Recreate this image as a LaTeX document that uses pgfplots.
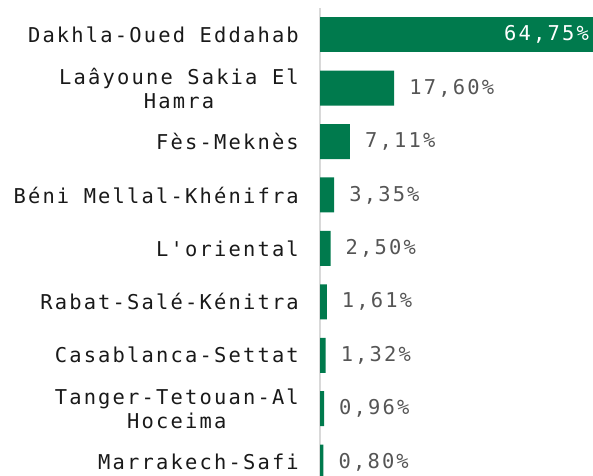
\documentclass[border=0pt]{standalone}
\usepackage{fontspec}
\setmainfont{Liberation Sans}
\newfontfamily\monof[LetterSpace=10.7,Ligatures=TeXOff]{DejaVu Sans Mono}
\usepackage{pgfplots}
\pgfplotsset{compat=1.18}
\definecolor{bargreen}{RGB}{0,122,77}
\definecolor{valgray}{RGB}{85,85,85}
\begin{document}
\begin{tikzpicture}
\begin{axis}[
  at={(320bp,-8bp)}, anchor=north west,
  scale only axis, width=273bp, height=468bp,
  xbar, bar width=35bp, bar shift=0pt,
  xmin=0, xmax=64.75, ymin=-0.5, ymax=8.26,
  y dir=reverse,
  axis x line=none, axis y line*=left,
  y axis line style={draw=black!15, line width=1.5bp},
  ytick={0,...,8},
  yticklabels={Dakhla-Oued Eddahab, {Laâyoune Sakia El\\Hamra}, Fès-Meknès, Béni Mellal-Khénifra, L'oriental, Rabat-Salé-Kénitra, Casablanca-Settat, {Tanger-Tetouan-Al\\Hoceima}, Marrakech-Safi},
  major tick length=0pt,
  yticklabel style={font=\monof\fontsize{20.5}{24}\selectfont, align=center, text=black!90, inner sep=0pt, xshift=-21bp},
  point meta=x,
  /pgf/number format/assume math mode=true,
  nodes near coords={\pgfmathprintnumber[fixed, fixed zerofill, precision=2, use comma]{\pgfplotspointmeta}\%},
  every node near coord/.append style={font=\monof\fontsize{20.5}{24}\selectfont, text=valgray, anchor=west, inner sep=0pt, xshift=15bp},
]
\addplot[draw=none, fill=bargreen, every node near coord/.append style={text=white, anchor=east, xshift=-19bp}] coordinates {(64.75,0)};
\addplot[draw=none, fill=bargreen] coordinates {(17.60,1) (7.11,2) (3.35,3) (2.50,4) (1.61,5) (1.32,6) (0.96,7) (0.80,8)};
\end{axis}
\pgfresetboundingbox
\path (0,0) rectangle (593bp,-476bp);
\end{tikzpicture}
\end{document}
